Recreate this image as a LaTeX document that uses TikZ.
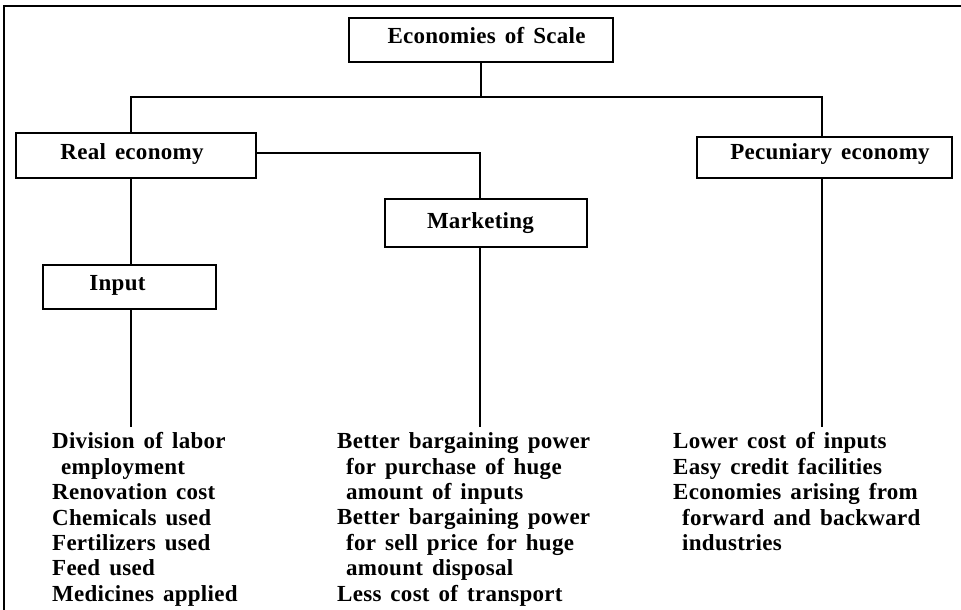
\documentclass[tikz,border=0pt]{standalone}
\usepackage{fontspec}
\setmainfont{Liberation Serif}[LetterSpace=1.2,WordSpace=1.5]
\begin{document}
\begin{tikzpicture}[x=1pt,y=-1pt,
  box/.style={draw, line width=1.3pt, inner sep=0pt, font=\fontsize{23}{25.4}\selectfont\bfseries},
  conn/.style={line width=1.8pt},
  frame/.style={line width=1.6pt},
  itemlist/.style={anchor=north west, inner sep=0pt, align=left, font=\fontsize{23}{25.4}\selectfont\bfseries}]
\useasboundingbox (0,0) rectangle (961,610);
\draw[frame] (4,610) -- (4,6) -- (961,6);

\node[box, minimum width=264pt, minimum height=44pt] (es) at (481,40) {\raisebox{10pt}{Economies of Scale\hspace*{-11pt}}};
\node[box, minimum width=240pt, minimum height=45pt] (re) at (136,155.5) {\raisebox{8pt}{Real economy\hspace*{8pt}}};
\node[box, minimum width=255pt, minimum height=41pt] (pe) at (824.5,157.5) {\raisebox{12pt}{\hspace*{11pt}Pecuniary economy}};
\node[box, minimum width=202pt, minimum height=48pt] (mk) at (486,223) {Marketing\hspace*{11pt}};
\node[box, minimum width=173pt, minimum height=44pt] (in) at (129.5,287) {\raisebox{9pt}{Input\hspace*{24pt}}};

\node[itemlist] (l1) at (52,432.5) {Division of labor\\\hspace*{9pt}employment\\Renovation cost\\Chemicals used\\Fertilizers used\\Feed used\\Medicines applied};
\node[itemlist] (l2) at (337,432.5) {Better bargaining power\\\hspace*{9pt}for purchase of huge\\\hspace*{9pt}amount of inputs\\Better bargaining power\\\hspace*{9pt}for sell price for huge\\\hspace*{9pt}amount disposal\\Less cost of transport};
\node[itemlist] (l3) at (673,432.5) {Lower cost of inputs\\Easy credit facilities\\Economies arising from\\\hspace*{9pt}forward and backward\\\hspace*{9pt}industries};

\coordinate (j) at (481,97);
\coordinate (jl) at (131,97);
\coordinate (jr) at (822,97);
\coordinate (e1) at (131,427);
\coordinate (e2) at (480,427);
\coordinate (e3) at (822,427);

\draw[conn] (es.south) -- (j);
\draw[conn] (jl |- re.north) -- (jl) -- (jr) -- (jr |- pe.north);
\draw[conn] (jl |- re.south) -- (jl |- in.north);
\draw[conn] (jl |- in.south) -- (e1);
\draw[conn] (re.east |- 0,153) -- (480,153) -- (e2 |- mk.north);
\draw[conn] (e2 |- mk.south) -- (e2);
\draw[conn] (jr |- pe.south) -- (e3);
\end{tikzpicture}
\end{document}
